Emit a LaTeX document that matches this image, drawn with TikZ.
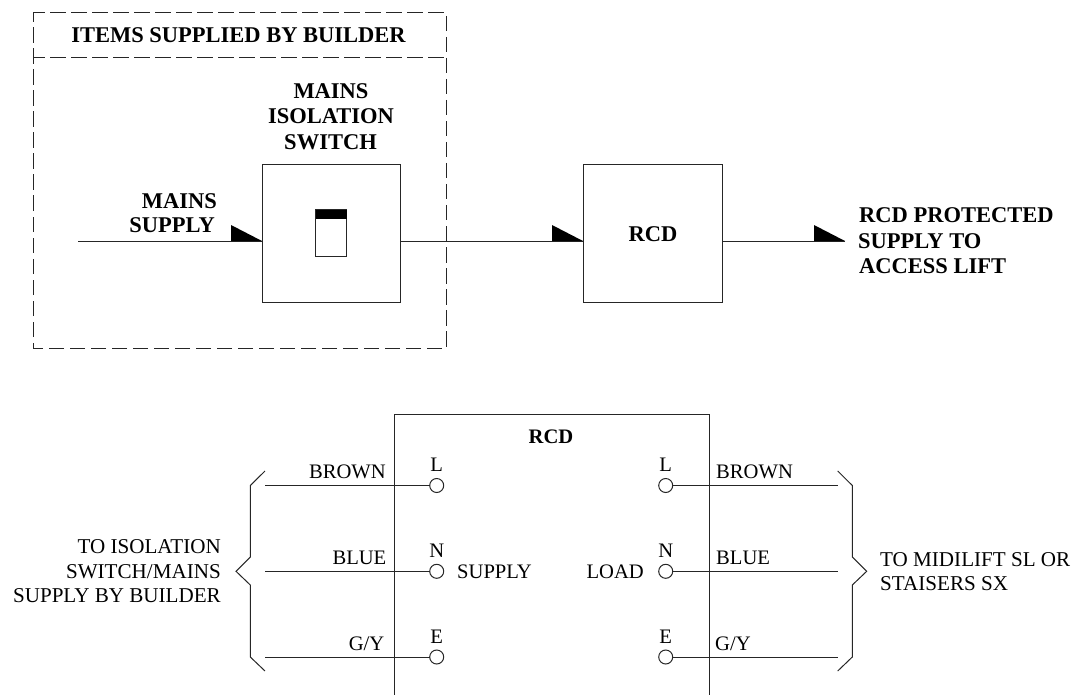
\documentclass[tikz,border=0pt]{standalone}
\usepackage{fontspec}
\setmainfont{Liberation Serif}
\tikzset{
 ln/.style={line width=1pt,draw=black!85},
 boxn/.style={ln,rectangle,inner sep=0pt,outer sep=0pt,minimum width=#1,minimum height=137pt},
 term/.style={ln,circle,fill=white,inner sep=0pt,outer sep=0pt,minimum size=14pt},
 bl/.style={font=\fontsize{22.5}{25}\selectfont\bfseries,inner sep=0pt,text=black},
 blsmall/.style={font=\fontsize{20.6}{25}\selectfont\bfseries,inner sep=0pt,text=black},
 tx/.style={font=\fontsize{21.1}{24.5}\selectfont,inner sep=0pt,text=black},
 txsmall/.style={font=\fontsize{20.6}{24.5}\selectfont,inner sep=0pt,text=black},
 dsh/.style={ln,dash pattern=on 15.5pt off 5.5pt,dash phase=4pt}
}
\newcommand{\halfhead}[1]{\fill[black] (#1) -- ++(-31,0) -- ++(0,-16) -- cycle;}
\begin{document}
\begin{tikzpicture}[x=1pt,y=-1pt]
\useasboundingbox (0,0) rectangle (1073,695);
% top dashed frame
\coordinate (fnw) at (33,13); \coordinate (fne) at (446,13);
\coordinate (fse) at (446,348); \coordinate (fsw) at (33,348);
\coordinate (dl) at (33,58); \coordinate (dr) at (446,58);
\draw[dsh] (fnw) -- (fne) -- (fse) -- (fsw) -- cycle;
\draw[dsh] (dl) -- (dr);
\node[bl,anchor=base] (title) at (238.5,43) {ITEMS SUPPLIED BY BUILDER};
\node[bl,anchor=base] (m1) at (331,99) {MAINS};
\node[bl,anchor=base] (m2) at (331,124) {ISOLATION};
\node[bl,anchor=base] (m3) at (330.5,150) {SWITCH};
\node[bl,anchor=base east] (ms1) at (217,208) {MAINS};
\node[bl,anchor=base east] (ms2) at (215,233) {SUPPLY};
% boxes
\node[boxn=138pt] (sw) at (331,233.5) {};
\node[boxn=139pt] (rcd) at (652.5,233.5) {};
\node[bl,anchor=base] (rcdt) at (653,241) {RCD};
% switch symbol
\node[ln,rectangle,fill=white,inner sep=0pt,outer sep=0pt,minimum width=31pt,minimum height=46pt] (sym) at (331,233) {};
\fill[black] (sym.north west) rectangle ([yshift=-9pt]sym.north east);
% main wires
\coordinate (src) at (78,241);
\coordinate (t1) at (262,241); \coordinate (o1) at (400,241);
\coordinate (t2) at (583,241); \coordinate (o2) at (722,241);
\coordinate (t3) at (845,241);
\draw[ln] (src) -- (t1);
\draw[ln] (o1) -- (t2);
\draw[ln] (o2) -- (t3);
\halfhead{t1} \halfhead{t2} \halfhead{t3}
\node[bl,anchor=base west] (p1) at (859,222.5) {RCD PROTECTED};
\node[bl,anchor=base west] (p2) at (858,248.5) {SUPPLY TO};
\node[bl,anchor=base west] (p3) at (859,273.5) {ACCESS LIFT};
% lower RCD
\coordinate (bl) at (394,695); \coordinate (tl) at (394,414);
\coordinate (tr) at (709,414); \coordinate (br) at (709,695);
\draw[ln] (bl) -- (tl) -- (tr) -- (br);
\node[blsmall,anchor=base] (rcdb) at (551,443) {RCD};
% terminals
\node[term] (la) at (436.7,485.5) {};
\node[term] (na) at (436.7,571.3) {};
\node[term] (ea) at (436.7,657) {};
\node[term] (lb) at (665.7,485.5) {};
\node[term] (nb) at (665.7,571.3) {};
\node[term] (eb) at (665.7,657) {};
\coordinate (wl1) at (265,485.5); \coordinate (wl2) at (265,571.3); \coordinate (wl3) at (265,657);
\coordinate (wr1) at (837.7,485.5); \coordinate (wr2) at (837.7,571.3); \coordinate (wr3) at (837.7,657);
\draw[ln] (wl1) -- (la.west);
\draw[ln] (wl2) -- (na.west);
\draw[ln] (wl3) -- (ea.west);
\draw[ln] (lb.east) -- (wr1);
\draw[ln] (nb.east) -- (wr2);
\draw[ln] (eb.east) -- (wr3);
% labels
\foreach \nm/\t/\b/\x in {a1/L/471/436.7,a2/N/557/436.7,a3/E/643/436.7,b1/L/471/665.7,b2/N/557/665.7,b3/E/643/665.7}
  \node[txsmall,anchor=base] (\nm) at (\x,\b) {\t};
\node[txsmall,anchor=base east] (c1) at (386,478) {BROWN};
\node[txsmall,anchor=base east] (c2) at (386.5,564) {BLUE};
\node[txsmall,anchor=base east] (c3) at (384.5,650.5) {G/Y};
\node[txsmall,anchor=base west] (d1) at (716,478) {BROWN};
\node[txsmall,anchor=base west] (d2) at (716,564) {BLUE};
\node[txsmall,anchor=base west] (d3) at (715,650.5) {G/Y};
\node[txsmall,anchor=base west] (sup) at (457,578) {SUPPLY};
\node[txsmall,anchor=base east] (load) at (644,578) {LOAD};
\node[tx,anchor=base east] (le1) at (221,553) {TO ISOLATION};
\node[tx,anchor=base east] (le2) at (221,578) {SWITCH/MAINS};
\node[tx,anchor=base east] (le3) at (221,602) {SUPPLY BY BUILDER};
\node[tx,anchor=base west] (ri1) at (880,566) {TO MIDILIFT SL OR};
\node[tx,anchor=base west] (ri2) at (880,590.5) {STAISERS SX};
% braces
\coordinate (ba) at (265,471); \coordinate (bb) at (250.3,485.5); \coordinate (bc) at (250.3,557);
\coordinate (bd) at (236,571.3); \coordinate (be) at (250.3,585); \coordinate (bf) at (250.3,657); \coordinate (bg) at (265,671);
\draw[ln] (ba) -- (bb) -- (bc) -- (bd) -- (be) -- (bf) -- (bg);
\coordinate (ca) at (837.7,471); \coordinate (cb) at (852.3,485.5); \coordinate (cc) at (852.3,557);
\coordinate (cd) at (866.7,571.3); \coordinate (ce) at (852.3,585); \coordinate (cf) at (852.3,657); \coordinate (cg) at (837.7,671);
\draw[ln] (ca) -- (cb) -- (cc) -- (cd) -- (ce) -- (cf) -- (cg);
\end{tikzpicture}
\end{document}
